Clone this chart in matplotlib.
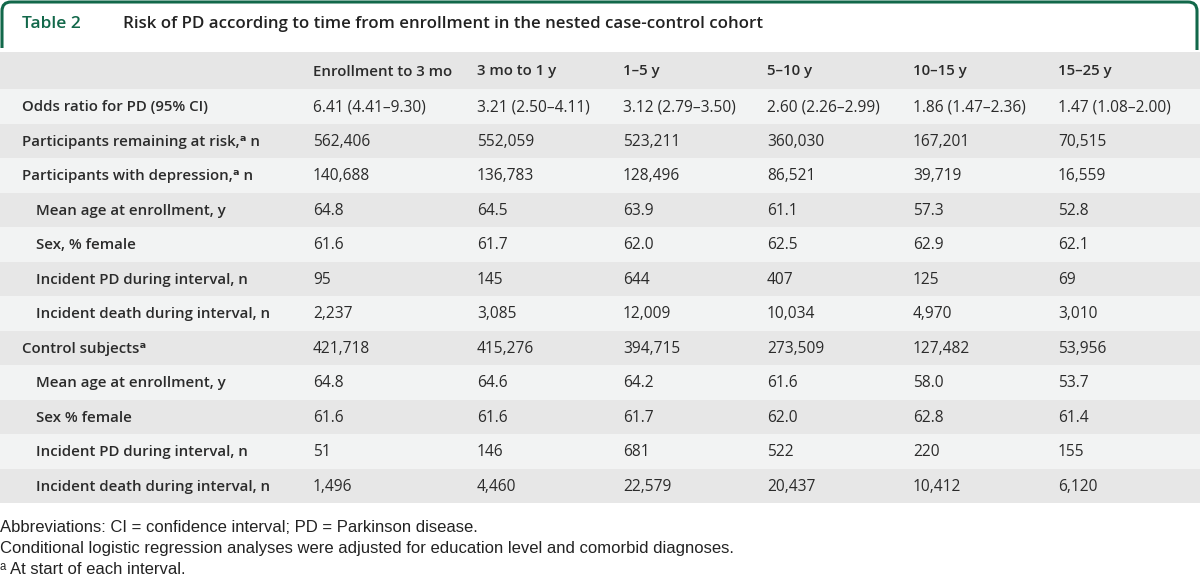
import matplotlib.pyplot as plt
from matplotlib.path import Path
from matplotlib.patches import PathPatch, Rectangle

plt.rcParams['font.family'] = ['Open Sans', 'DejaVu Sans']

# Table content
title_tag = "Table 2"
title = "Risk of PD according to time from enrollment in the nested case-control cohort"

columns = ["Enrollment to 3 mo", "3 mo to 1 y", "1\u20135 y", "5\u201310 y",
           "10\u201315 y", "15\u201325 y"]

row_labels = [
    "Odds ratio for PD (95% CI)",
    "Participants remaining at risk,\u1d43 n",
    "Participants with depression,\u1d43 n",
    "Mean age at enrollment, y",
    "Sex, % female",
    "Incident PD during interval, n",
    "Incident death during interval, n",
    "Control subjects\u1d43",
    "Mean age at enrollment, y",
    "Sex % female",
    "Incident PD during interval, n",
    "Incident death during interval, n",
]
row_indent = [0, 0, 0, 1, 1, 1, 1, 0, 1, 1, 1, 1]

odds_ratio = ["6.41 (4.41\u20139.30)", "3.21 (2.50\u20134.11)", "3.12 (2.79\u20133.50)",
              "2.60 (2.26\u20132.99)", "1.86 (1.47\u20132.36)", "1.47 (1.08\u20132.00)"]
at_risk = ["562,406", "552,059", "523,211", "360,030", "167,201", "70,515"]
depression_n = ["140,688", "136,783", "128,496", "86,521", "39,719", "16,559"]
dep_age = ["64.8", "64.5", "63.9", "61.1", "57.3", "52.8"]
dep_female = ["61.6", "61.7", "62.0", "62.5", "62.9", "62.1"]
dep_pd = ["95", "145", "644", "407", "125", "69"]
dep_death = ["2,237", "3,085", "12,009", "10,034", "4,970", "3,010"]
control_n = ["421,718", "415,276", "394,715", "273,509", "127,482", "53,956"]
ctl_age = ["64.8", "64.6", "64.2", "61.6", "58.0", "53.7"]
ctl_female = ["61.6", "61.6", "61.7", "62.0", "62.8", "61.4"]
ctl_pd = ["51", "146", "681", "522", "220", "155"]
ctl_death = ["1,496", "4,460", "22,579", "20,437", "10,412", "6,120"]

footnotes = [
    "Abbreviations: CI = confidence interval; PD = Parkinson disease.",
    "Conditional logistic regression analyses were adjusted for education level and comorbid diagnoses.",
    "\u1d43 At start of each interval.",
]

values = [odds_ratio, at_risk, depression_n, dep_age, dep_female, dep_pd, dep_death,
          control_n, ctl_age, ctl_female, ctl_pd, ctl_death]

green = "#12684a"
text_col = "#2b2b2b"

fig = plt.figure(figsize=(12, 5.8), dpi=100)
ax = fig.add_axes([0, 0, 1, 1])
ax.set_xlim(0, 1200)
ax.set_ylim(580, 0)
ax.axis('off')

# title box (rounded top, open bottom)
r = 9
verts = [(2, 48), (2, 2 + r), (2, 2), (2 + r, 2), (1197 - r, 2), (1197, 2),
         (1197, 2 + r), (1197, 50)]
codes = [Path.MOVETO, Path.LINETO, Path.CURVE3, Path.CURVE3, Path.LINETO,
         Path.CURVE3, Path.CURVE3, Path.LINETO]
ax.add_patch(PathPatch(Path(verts, codes), fill=False, edgecolor=green, lw=2.2))
ax.text(22, 24, title_tag, color=green, fontsize=12.5, fontweight='semibold', va='center')
ax.text(123, 24, title, color="#222222", fontsize=12.2, fontweight='semibold', va='center')

col_x = [313, 477, 623, 767, 913, 1058]

# header
top, head_h, row_h = 52, 37, 34.5
ax.add_patch(Rectangle((0, top), 1200, head_h, color="#e6e6e6", lw=0))
for x, c in zip(col_x, columns):
    ax.text(x, top + head_h / 2 + 1, c, fontsize=10.8, fontweight='semibold',
            color=text_col, va='center')

for i, (lab, ind, vals) in enumerate(zip(row_labels, row_indent, values)):
    y0 = top + head_h + i * row_h
    ax.add_patch(Rectangle((0, y0), 1200, row_h,
                           color="#f2f3f3" if i % 2 == 0 else "#e7e7e7", lw=0))
    yc = y0 + row_h / 2 + 1
    ax.text(22 + 14 * ind, yc, lab, fontsize=10.8, fontweight='semibold',
            color=text_col, va='center')
    for x, v in zip(col_x, vals):
        ax.text(x, yc, v, fontsize=11.2, color=text_col, va='center')

for k, note in enumerate(footnotes):
    ax.text(0, 528 + k * 20.5, note, fontsize=12, color="#222222", va='center',
            family=['Liberation Sans', 'DejaVu Sans'])

fig.savefig("out.png", dpi=100)
